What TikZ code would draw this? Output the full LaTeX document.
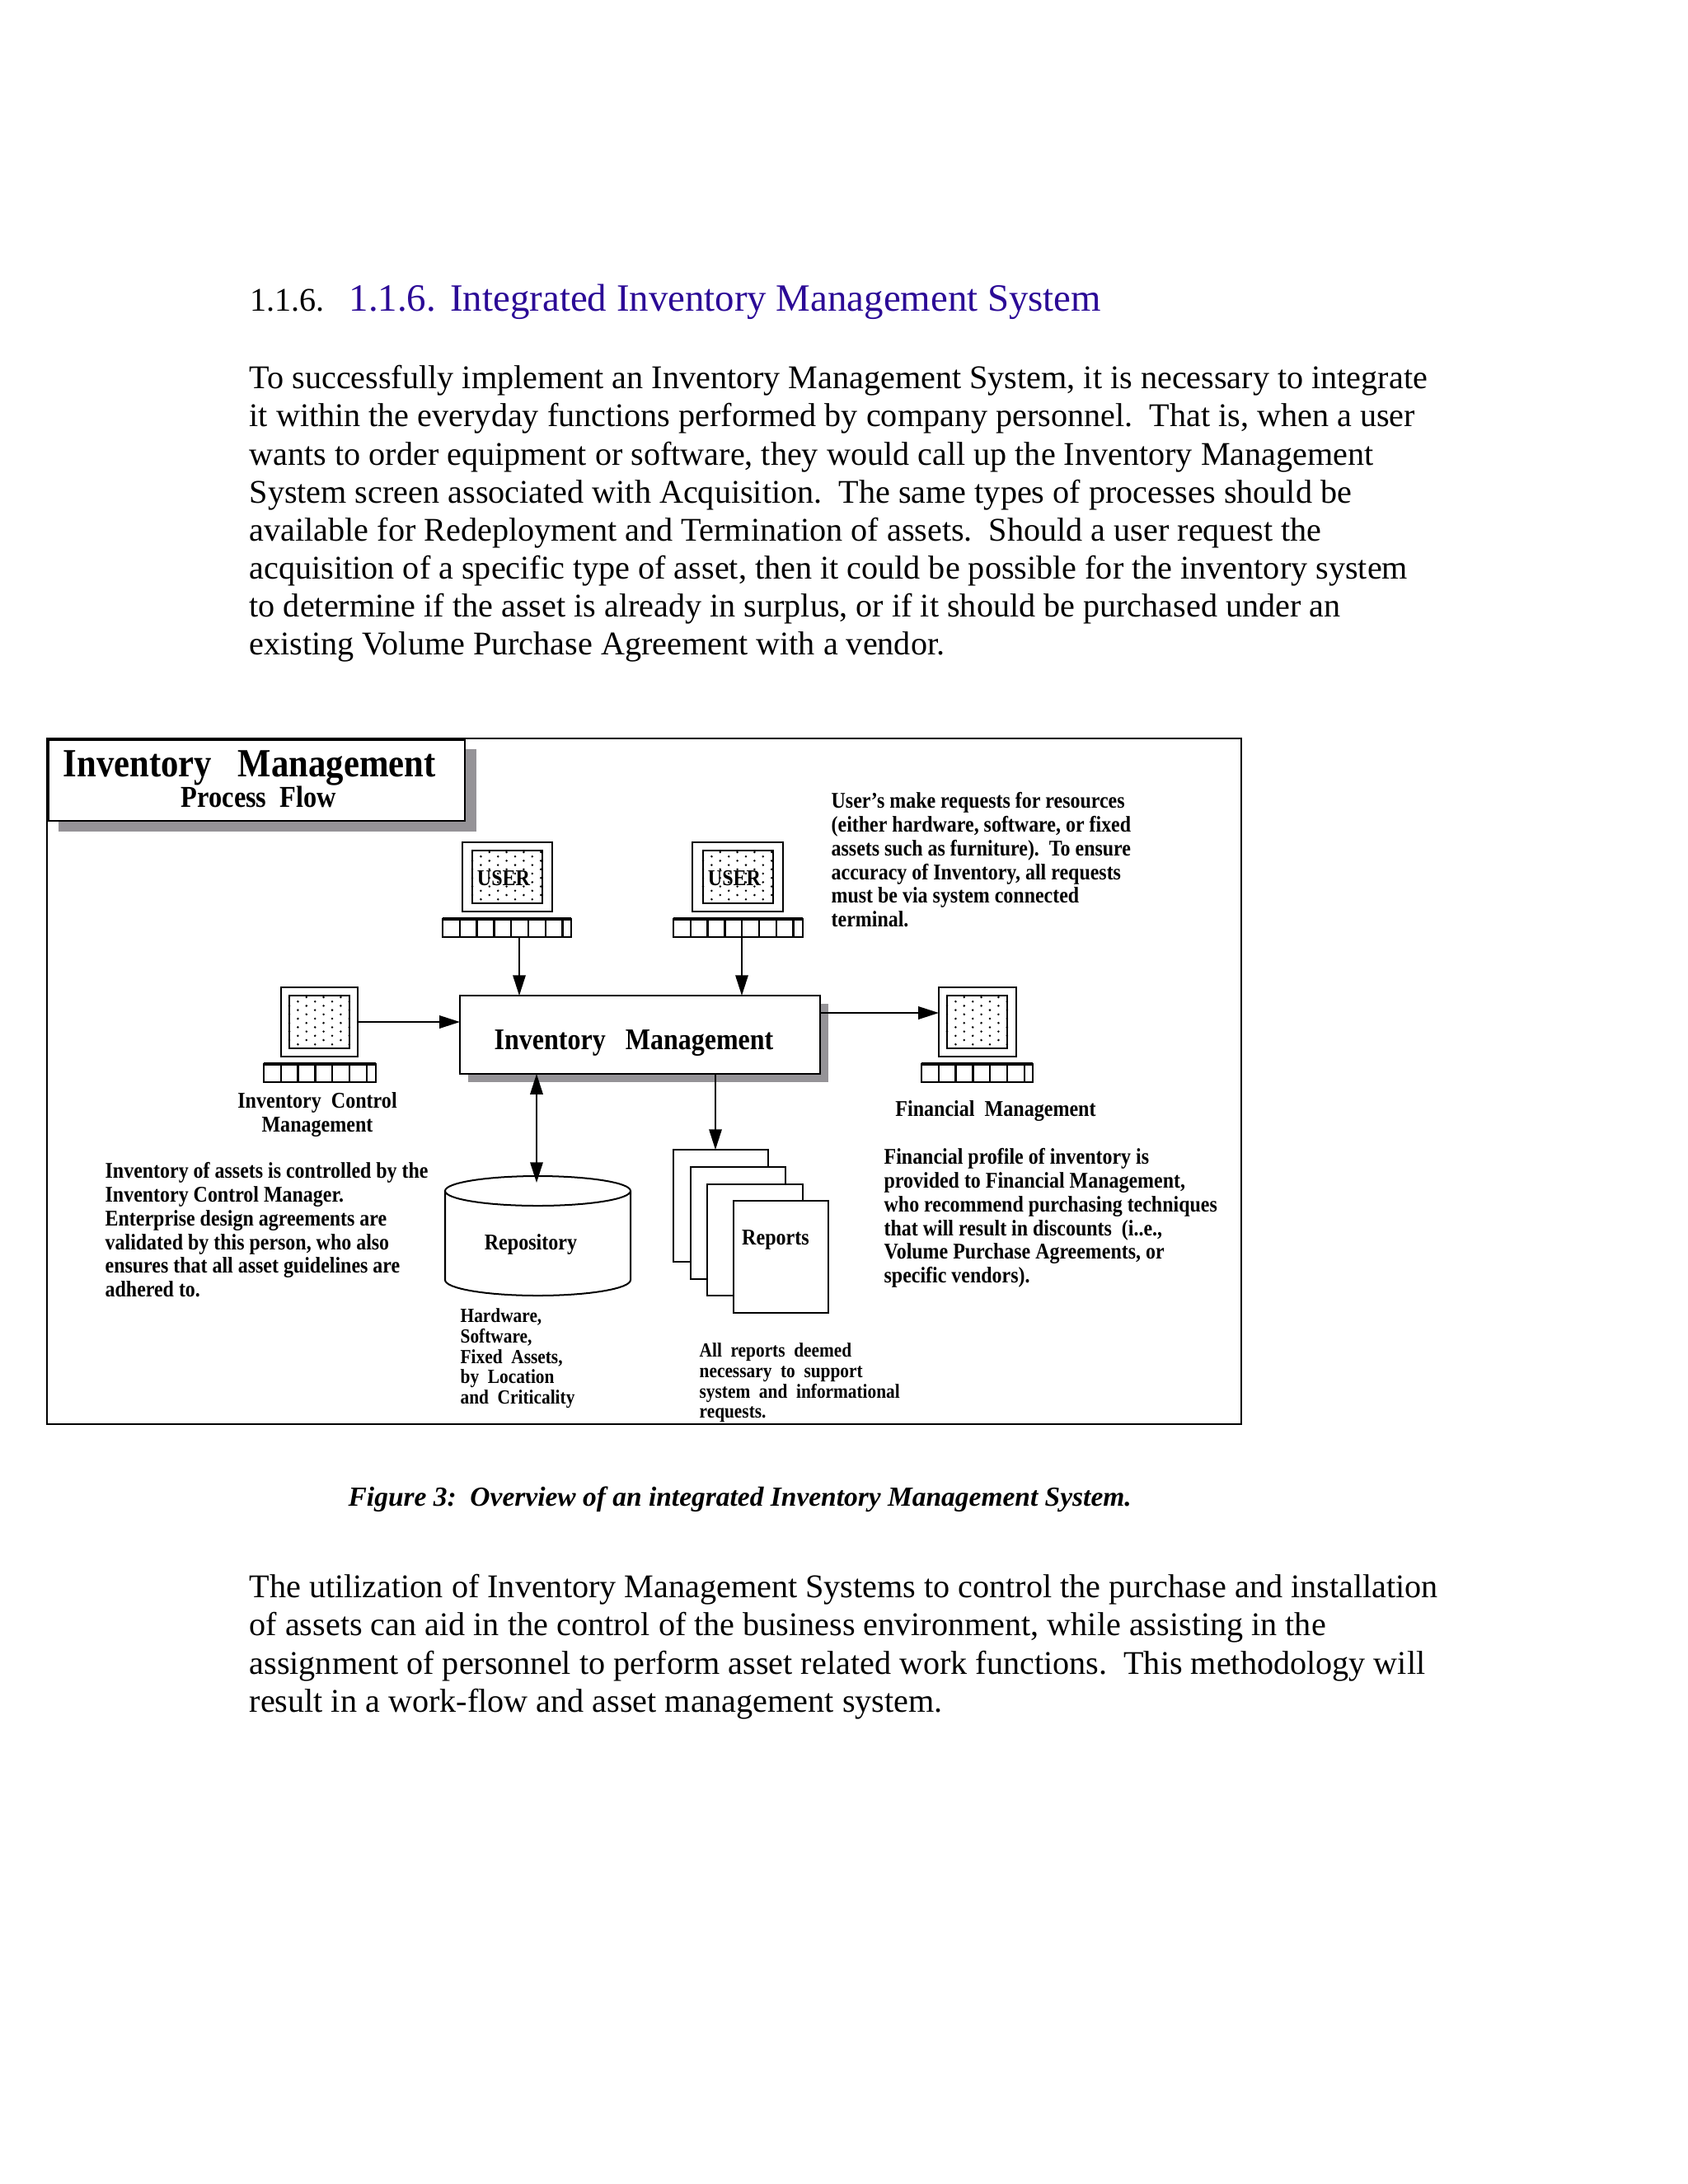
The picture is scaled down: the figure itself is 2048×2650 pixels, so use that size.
\documentclass[tikz,border=0pt]{standalone}
\usepackage{fontspec}
\usepackage{tikz}
\usetikzlibrary{arrows.meta,fit}
\setmainfont{Liberation Serif}
\newfontfamily\figfont[FakeStretch=0.88]{Liberation Serif}
\definecolor{headblue}{HTML}{2B0A96}
\definecolor{shade}{HTML}{959397}
\newcommand{\px}{0.2988pt}
\newcommand{\terminal}[9]{%
  \node[pane, fit={(#2,#8) (#3,#9)}] (#1screen) {};
  \node[pane, fit={(#4,#8+10) (#5,#9-10)}] (#1glass) {};
  \foreach \r in {0,...,11} {
    \pgfmathsetmacro{\dotx}{#4+10.4*mod(\r,2)}
    \foreach \k in {0,...,4} {
      \pgfmathsetmacro{\doty}{\dotx+20.8*\k}
      \pgfmathparse{\doty<#5?1:0}
      \ifnum\pgfmathresult=1 \fill (\doty,#8+12+5.2*\r) circle (0.42pt); \fi
    }
  }
  \node[pane, fit={(#6,#9+9) (#7,#9+31)}] (#1keys) {};
  \draw[line width=1.1pt] (#6,#9+9) -- (#7,#9+9);
  \pgfmathtruncatemacro{\lastcell}{(#7-#6-1)/20.8}
  \foreach \c in {1,...,\lastcell} {
    \draw[line width=0.7pt] (#6+20.8*\c,#9+9) -- (#6+20.8*\c,#9+31);
  }
}
\tikzset{
  pane/.style={draw, fill=white, inner sep=0pt, outer sep=0pt, line width=0.6pt},
  shadow/.style={fill=shade, inner sep=0pt, outer sep=0pt},
  flow/.style={-{Triangle[length=7.4pt,width=4.6pt]}, line width=0.6pt},
  both/.style={{Triangle[length=7.4pt,width=4.6pt]}-{Triangle[length=7.4pt,width=4.6pt]}, line width=0.6pt},
  bodytext/.style={anchor=north west, align=left, inner sep=0pt, font=\fontsize{12}{13.75}\selectfont},
  note/.style={anchor=north west, align=left, inner sep=0pt, font=\figfont\fontsize{8.13}{8.6}\selectfont\bfseries},
  smallnote/.style={anchor=north west, align=left, inner sep=0pt, font=\figfont\fontsize{7.25}{7.4}\selectfont\bfseries},
  label/.style={anchor=base, inner sep=0pt, font=\figfont\fontsize{8.17}{8.6}\selectfont\bfseries}
}
\begin{document}
\begin{tikzpicture}[x=\px, y=-\px]
  \useasboundingbox (0,0) rectangle (2048,2650);

  \node[anchor=base west, inner sep=0pt, font=\fontsize{12}{14}\selectfont] (secnum) at (303,377) {1.1.6.};
  \node[anchor=base west, inner sep=0pt, text=headblue, font=\fontsize{14}{16}\selectfont] (sectitle) at (423,377) {1.1.6.\hspace{0.37em}Integrated Inventory Management System};

  \node[bodytext] (introtext) at (302,443) {To successfully implement an Inventory Management System, it is necessary to integrate\\
    it within the everyday functions performed by company personnel.\ \ That is, when a user\\
    wants to order equipment or software, they would call up the Inventory Management\\
    System screen associated with Acquisition.\ \ The same types of processes should be\\
    available for Redeployment and Termination of assets.\ \ Should a user request the\\
    acquisition of a specific type of asset, then it could be possible for the inventory system\\
    to determine if the asset is already in surplus, or if it should be purchased under an\\
    existing Volume Purchase Agreement with a vendor.};

  \node[pane, fit={(57,896) (1506,1728)}] (frame) {};
  \node[shadow, fit={(71,909) (578,1009)}] (titleshade) {};
  \node[pane, fit={(59,898) (564,996)}] (titlebox) {};
  \node[anchor=base west, inner sep=0pt, font=\figfont\fontsize{14.5}{16}\selectfont\bfseries] (titletext) at (76,942) {Inventory\ \ \ Management};
  \node[anchor=base, inner sep=0pt, font=\figfont\fontsize{11}{12}\selectfont\bfseries] (subtitle) at (314,979) {Process\ \ Flow};

  \terminal{usera}{561}{670}{573}{658}{537}{693}{1022}{1106}
  \terminal{userb}{840}{950}{853}{938}{817}{974}{1022}{1106}
  \terminal{icm}{341}{434}{351}{424}{320}{456}{1198}{1282}
  \terminal{fin}{1139}{1233}{1149}{1222}{1118}{1253}{1198}{1282}
  \node[label] (useralabel) at (611,1074) {USER};
  \node[label] (userblabel) at (891,1074) {USER};

  \node[shadow, fit={(568,1218) (1005,1313)}] (invshade) {};
  \node[pane, fit={(558,1208) (995,1303)}] (invbox) {};
  \node[anchor=base west, inner sep=0pt, font=\figfont\fontsize{10.87}{12}\selectfont\bfseries] (invtext) at (599,1273) {Inventory\ \ \ Management};

  \draw[pane] (540,1445) -- (540,1553) arc[start angle=180, end angle=0, x radius=112.5, y radius=19] -- (765,1445);
  \draw[pane] (652.5,1445) ellipse[x radius=112.5, y radius=18];
  \node[label] (repotext) at (644,1516) {Repository};

  \node[pane, fit={(817,1395) (932,1531)}] (pagea) {};
  \node[pane, fit={(838,1416) (953,1552)}] (pageb) {};
  \node[pane, fit={(858,1437) (974,1572)}] (pagec) {};
  \node[pane, fit={(890,1457) (1005,1593)}] (paged) {};
  \node[label] (pagetext) at (941,1510) {Reports};

  \coordinate (tapa) at (630,1137);
  \coordinate (tapb) at (900,1137);
  \coordinate (tapfin) at (1139,1229);
  \coordinate (taprepo) at (651,1435);
  \coordinate (tappage) at (868,1395);
  \draw[flow] (tapa) -- (tapa |- invbox.north);
  \draw[flow] (tapb) -- (tapb |- invbox.north);
  \draw[flow] (icmscreen.east) -- (icmscreen.east -| invbox.west);
  \draw[flow] (tapfin -| invbox.east) -- (tapfin);
  \draw[both] (taprepo |- invbox.south) -- (taprepo);
  \draw[flow] (tappage |- invbox.south) -- (tappage);

  \node[note] (usernote) at (1008,961) {User’s make requests for resources\\
    (either hardware, software, or fixed\\
    assets such as furniture).\ \ To ensure\\
    accuracy of Inventory, all requests\\
    must be via system connected\\
    terminal.};
  \node[label] (icmlabela) at (385,1344) {Inventory\ \ Control};
  \node[label] (icmlabelb) at (385,1373) {Management};
  \node[label] (finlabel) at (1208,1354) {Financial\ \ Management};
  \node[note] (icmnote) at (127,1410) {Inventory of assets is controlled by the\\
    Inventory Control Manager.\\
    Enterprise design agreements are\\
    validated by this person, who also\\
    ensures that all asset guidelines are\\
    adhered to.};
  \node[note] (finnote) at (1072,1393) {Financial profile of inventory is\\
    provided to Financial Management,\\
    who recommend purchasing techniques\\
    that will result in discounts\ \ (i..e.,\\
    Volume Purchase Agreements, or\\
    specific vendors).};
  \node[smallnote] (hardnote) at (558,1587) {Hardware,\\
    Software,\\
    Fixed\ \ Assets,\\
    by\ \ Location\\
    and\ \ Criticality};
  \node[smallnote] (reportnote) at (848,1629) {All\ \ reports\ \ deemed\\
    necessary\ \ to\ \ support\\
    system\ \ and\ \ informational\\
    requests.};

  \node[anchor=base west, inner sep=0pt, font=\fontsize{10}{12}\selectfont\bfseries\itshape] (caption) at (422,1827) {Figure 3:\ \ Overview of an integrated Inventory Management System.};

  \node[bodytext] (closetext) at (302,1910) {The utilization of Inventory Management Systems to control the purchase and installation\\
    of assets can aid in the control of the business environment, while assisting in the\\
    assignment of personnel to perform asset related work functions.\ \ This methodology will\\
    result in a work-flow and asset management system.};
\end{tikzpicture}
\end{document}
